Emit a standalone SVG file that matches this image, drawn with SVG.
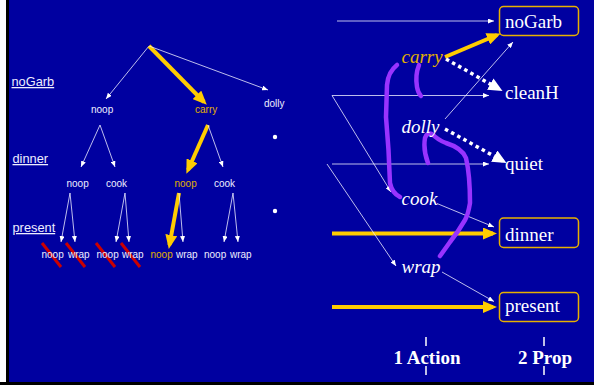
<svg xmlns="http://www.w3.org/2000/svg" width="594" height="385" viewBox="0 0 594 385">
<style>
.t{font-family:"Liberation Sans",Arial,sans-serif;font-size:10px;fill:#EEEEFF}
.u{font-family:"Liberation Sans",Arial,sans-serif;font-size:12.8px;fill:#EEEEFF;text-decoration:underline}
.s{font-family:"Liberation Serif","Times New Roman",serif;font-size:19px;fill:#FFFFFF}
.i{font-family:"Liberation Serif","Times New Roman",serif;font-size:19px;font-style:italic;fill:#FFFFFF}
.b{font-family:"Liberation Serif","Times New Roman",serif;font-size:19px;font-weight:bold;fill:#FFFFFF}
.y{fill:#E0B000}
.thin{stroke:#EEEEFF;stroke-width:0.8;fill:none;marker-end:url(#wa)}
.yel{stroke:#FFCC00;stroke-width:4;fill:none;marker-end:url(#ya)}
.dot{stroke:#FFFFFF;stroke-width:3.5;stroke-dasharray:3.5 3.5;fill:none;marker-end:url(#dt)}
.red{stroke:#CC0000;stroke-width:3;fill:none}
.pur{stroke:#9933FF;stroke-width:4.5;fill:none;stroke-linecap:round;stroke-linejoin:round}
.box{fill:none;stroke:#E8B000;stroke-width:1.5}
.tick{stroke:#FFFFFF;stroke-width:1.5}
</style>
<defs>
<marker id="wa" markerUnits="userSpaceOnUse" markerWidth="6" markerHeight="5" refX="6" refY="2.5" orient="auto"><path d="M0,0 L6,2.5 L0,5 z" fill="#FFFFFF"/></marker>
<marker id="ya" markerUnits="userSpaceOnUse" markerWidth="14" markerHeight="12" refX="10" refY="6" orient="auto"><path d="M0,0 L14,6 L0,12 z" fill="#FFCC00"/></marker>
<marker id="dt" markerUnits="userSpaceOnUse" markerWidth="14" markerHeight="13" refX="10" refY="6.5" orient="auto"><path d="M0,0 L14,6.5 L0,13 z" fill="#FFFFFF"/></marker>
</defs>
<rect x="0" y="0" width="594" height="385" fill="#0000A0"/>
<rect x="0" y="0" width="6" height="385" fill="#FFFFFF"/>
<rect x="6" y="0" width="3" height="385" fill="#000000"/>
<rect x="0" y="382" width="594" height="3" fill="#000000"/>

<g id="connectors">
<line class="thin" x1="149" y1="46" x2="106" y2="99"/>
<line class="yel" x1="149" y1="46" x2="204" y2="102"/>
<line class="thin" x1="149" y1="46" x2="268" y2="90"/>
<line class="thin" x1="100" y1="125" x2="81" y2="167"/>
<line class="thin" x1="100" y1="125" x2="115" y2="167"/>
<line class="yel" x1="208" y1="125" x2="188" y2="170"/>
<line class="thin" x1="208" y1="125" x2="223" y2="167"/>
<line class="thin" x1="70" y1="193" x2="61" y2="242"/>
<line class="thin" x1="70" y1="193" x2="75" y2="242"/>
<line class="thin" x1="125" y1="193" x2="116" y2="242"/>
<line class="thin" x1="125" y1="193" x2="129" y2="242"/>
<line class="yel" x1="179" y1="193" x2="169.5" y2="245"/>
<line class="thin" x1="179" y1="193" x2="183" y2="242"/>
<line class="thin" x1="233" y1="193" x2="224" y2="242"/>
<line class="thin" x1="233" y1="193" x2="238" y2="242"/>
<line class="red" x1="42" y1="243" x2="61" y2="267"/>
<line class="red" x1="66" y1="243" x2="85" y2="267"/>
<line class="red" x1="96" y1="243" x2="115" y2="267"/>
<line class="red" x1="121" y1="243" x2="140" y2="267"/>
<line class="thin" x1="337" y1="21" x2="494" y2="21"/>
<line class="thin" x1="332" y1="95.5" x2="489" y2="95.5"/>
<line class="thin" x1="332" y1="164" x2="489" y2="164"/>
<line class="yel" x1="332" y1="233.5" x2="493" y2="233.5"/>
<line class="yel" x1="332" y1="307" x2="493" y2="307"/>
<line class="thin" x1="332" y1="95.5" x2="391" y2="192"/>
<line class="thin" x1="327" y1="164" x2="396" y2="266"/>
<line class="yel" x1="445" y1="57" x2="497" y2="35"/>
<line class="dot" x1="446" y1="59" x2="499" y2="89"/>
<line class="thin" x1="445" y1="119" x2="513" y2="42"/>
<line class="dot" x1="445" y1="129" x2="503" y2="161"/>
<line class="thin" x1="437" y1="203.5" x2="494" y2="227"/>
<line class="thin" x1="442" y1="272" x2="494" y2="301.5"/>
<path class="pur" d="M397,65 Q388,72 387,85 L386,117 Q389,150 390,183 Q392,193 400,197"/>
<path class="pur" d="M419,65 Q415,75 417,87 Q418,93 421,96"/>
<path class="pur" d="M428,163 Q423,150 425,138 Q427,132 432,134 Q438,140 446,143 Q462,148 466,158 Q470,175 470,203 Q468,215 465,220 Q458,232 450,242 L440,256"/>
<line class="tick" x1="426" y1="337" x2="426" y2="346"/>
<line class="tick" x1="426" y1="366" x2="426" y2="375"/>
<line class="tick" x1="544" y1="337" x2="544" y2="346"/>
<line class="tick" x1="544" y1="366" x2="544" y2="375"/>
</g>

<g id="left-labels">
<text class="u" x="11.5" y="86">noGarb</text>
<text class="u" x="12.5" y="163">dinner</text>
<text class="u" x="12.5" y="232">present</text>
</g>
<g id="t-noop1"><text class="t" x="91" y="113">noop</text></g>
<g id="t-carry1"><text class="t y" x="195" y="113">carry</text></g>
<g id="t-dolly1"><text class="t" x="264" y="107">dolly</text></g>
<g id="dot1"><circle cx="275" cy="137" r="2.2" fill="#FFFFFF"/></g>
<g id="dot2"><circle cx="275" cy="211" r="2.2" fill="#FFFFFF"/></g>
<g id="t-noop2a"><text class="t" x="66.5" y="187">noop</text></g>
<g id="t-cook2a"><text class="t" x="106" y="187">cook</text></g>
<g id="t-noop2b"><text class="t y" x="174.5" y="187">noop</text></g>
<g id="t-cook2b"><text class="t" x="214" y="187">cook</text></g>
<g id="leaves">
<text class="t" x="41.5" y="258">noop</text>
<text class="t" x="68" y="258">wrap</text>
<text class="t" x="96.5" y="258">noop</text>
<text class="t" x="122" y="258">wrap</text>
<text class="t y" x="150.5" y="258">noop</text>
<text class="t" x="176" y="258">wrap</text>
<text class="t" x="204" y="258">noop</text>
<text class="t" x="230" y="258">wrap</text>
</g>

<g id="p-noGarb"><rect class="box" x="499.5" y="6.5" width="79" height="29" rx="4"/><text class="s" x="505" y="28">noGarb</text></g>
<g id="p-cleanH"><text class="s" x="505" y="98.5">cleanH</text></g>
<g id="p-quiet"><text class="s" x="505" y="169.5">quiet</text></g>
<g id="p-dinner"><rect class="box" x="499.5" y="218" width="79" height="29.5" rx="4"/><text class="s" x="505" y="241">dinner</text></g>
<g id="p-present"><rect class="box" x="499.5" y="292.5" width="79" height="29" rx="4"/><text class="s" x="505" y="311.5">present</text></g>
<g id="a-carry"><text class="i" x="401.5" y="63" style="fill:#E0B000">carry</text></g>
<g id="a-dolly"><text class="i" x="401.5" y="133">dolly</text></g>
<g id="a-cook"><text class="i" x="401.5" y="205">cook</text></g>
<g id="a-wrap"><text class="i" x="401.5" y="273">wrap</text></g>
<g id="footer">
<text class="b" x="427" y="364" text-anchor="middle">1 Action</text>
<text class="b" x="545" y="364" text-anchor="middle">2 Prop</text>
</g>
</svg>
